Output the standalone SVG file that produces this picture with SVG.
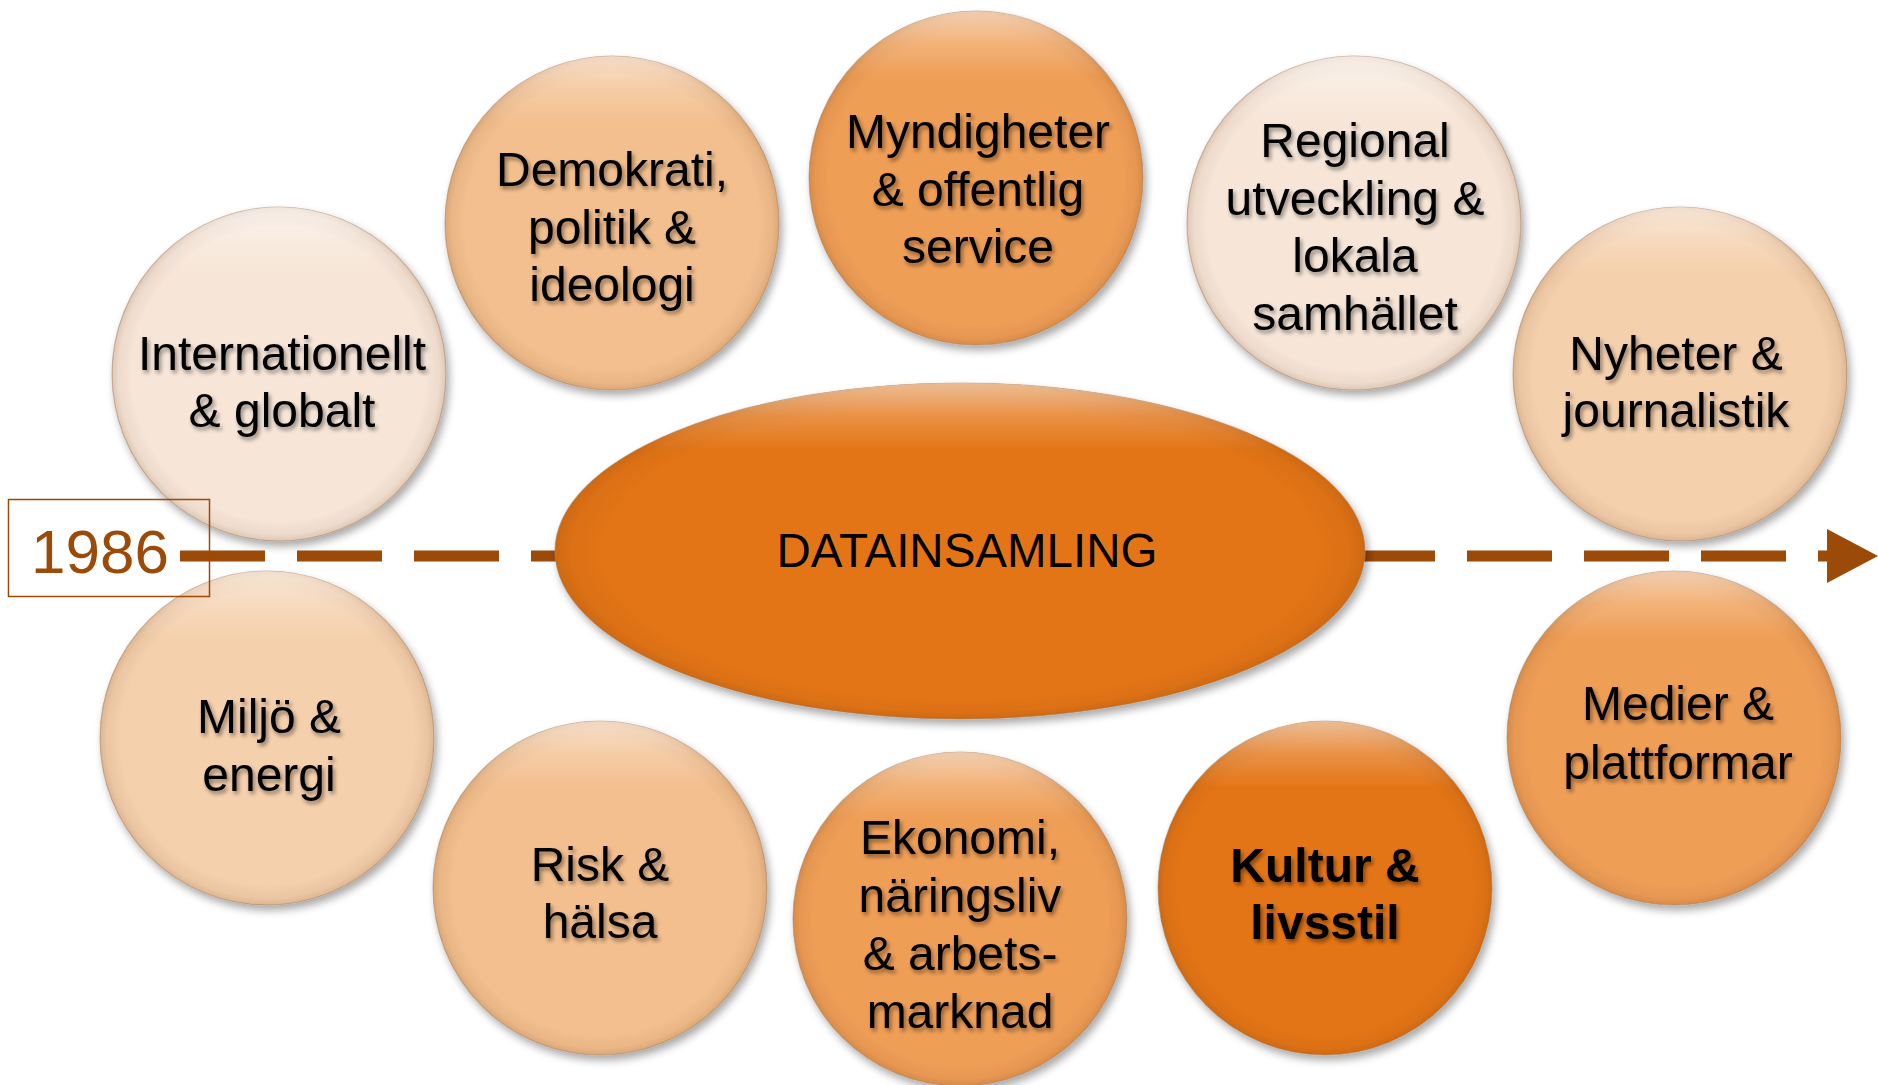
<svg xmlns="http://www.w3.org/2000/svg" width="1878" height="1085" viewBox="0 0 1878 1085">
<style>
.lbl{font-family:"Liberation Sans",Arial,sans-serif;font-size:48px;fill:#000;text-anchor:middle;filter:url(#tshadow)}
.bold{font-weight:bold}
.base{filter:url(#shadow);stroke:#b08a6a;stroke-opacity:0.55;stroke-width:1.2}
.rim{fill:url(#rim)}
.hl{fill:url(#hl)}
.cream{fill:#F7E6D8}
.lpeach{fill:#F5D0AD}
.peach{fill:#F3BF8E}
.mid{fill:#EF9E56}
.dark{fill:#E47412}
.dash{stroke:#9C4A07;stroke-width:11;stroke-dasharray:85 32;fill:none}
</style>
<defs>
<filter id="shadow" x="-20%" y="-20%" width="140%" height="140%">
<feGaussianBlur in="SourceAlpha" stdDeviation="4"/>
<feOffset dx="3" dy="5" result="b"/>
<feComponentTransfer><feFuncA type="linear" slope="0.35"/></feComponentTransfer>
<feMerge><feMergeNode/><feMergeNode in="SourceGraphic"/></feMerge>
</filter>
<filter id="tshadow" x="-10%" y="-20%" width="120%" height="140%">
<feGaussianBlur in="SourceAlpha" stdDeviation="2"/>
<feOffset dx="2" dy="3"/>
<feComponentTransfer><feFuncA type="linear" slope="0.45"/></feComponentTransfer>
<feMerge><feMergeNode/><feMergeNode in="SourceGraphic"/></feMerge>
</filter>
<radialGradient id="rim" cx="0.5" cy="0.5" r="0.5">
<stop offset="0" stop-color="#000" stop-opacity="0"/>
<stop offset="0.88" stop-color="#000" stop-opacity="0"/>
<stop offset="0.96" stop-color="#5a2a00" stop-opacity="0.06"/>
<stop offset="1" stop-color="#5a2a00" stop-opacity="0.16"/>
</radialGradient>
<linearGradient id="hl" x1="0" y1="0" x2="0" y2="1">
<stop offset="0" stop-color="#fff" stop-opacity="0.55"/>
<stop offset="0.1" stop-color="#fff" stop-opacity="0.2"/>
<stop offset="0.2" stop-color="#fff" stop-opacity="0"/>
<stop offset="1" stop-color="#fff" stop-opacity="0"/>
</linearGradient>
</defs>
<rect width="1878" height="1085" fill="#fff"/>

<g id="connectors">
<line class="dash" x1="180" y1="556" x2="1830" y2="556"/>
<polygon points="1827,529 1878,556 1827,583" fill="#9C4A07"/>
</g>

<g id="node-datainsamling">
<ellipse class="base dark" cx="960" cy="551" rx="405" ry="168"/>
<ellipse class="rim" cx="960" cy="551" rx="405" ry="168"/>
<ellipse class="hl" cx="960" cy="551" rx="405" ry="168"/>
<text class="lbl" x="967" y="567" style="font-size:47.5px;filter:none">DATAINSAMLING</text>
</g>

<g id="node-internationellt">
<circle class="base cream" cx="279" cy="374" r="167"/>
<circle class="rim" cx="279" cy="374" r="167"/>
<circle class="hl" cx="279" cy="374" r="167"/>
<text class="lbl" x="282" y="370">Internationellt</text>
<text class="lbl" x="282" y="427">&amp; globalt</text>
</g>

<g id="node-demokrati">
<circle class="base peach" cx="612" cy="223" r="167"/>
<circle class="rim" cx="612" cy="223" r="167"/>
<circle class="hl" cx="612" cy="223" r="167"/>
<text class="lbl" x="612" y="186">Demokrati,</text>
<text class="lbl" x="612" y="244">politik &amp;</text>
<text class="lbl" x="612" y="301">ideologi</text>
</g>

<g id="node-myndigheter">
<circle class="base mid" cx="976" cy="178" r="167"/>
<circle class="rim" cx="976" cy="178" r="167"/>
<circle class="hl" cx="976" cy="178" r="167"/>
<text class="lbl" x="978" y="148">Myndigheter</text>
<text class="lbl" x="978" y="206">&amp; offentlig</text>
<text class="lbl" x="978" y="263">service</text>
</g>

<g id="node-regional">
<circle class="base cream" cx="1354" cy="223" r="167"/>
<circle class="rim" cx="1354" cy="223" r="167"/>
<circle class="hl" cx="1354" cy="223" r="167"/>
<text class="lbl" x="1355" y="157">Regional</text>
<text class="lbl" x="1355" y="215">utveckling &amp;</text>
<text class="lbl" x="1355" y="272">lokala</text>
<text class="lbl" x="1355" y="330">samhället</text>
</g>

<g id="node-nyheter">
<circle class="base lpeach" cx="1680" cy="374" r="167"/>
<circle class="rim" cx="1680" cy="374" r="167"/>
<circle class="hl" cx="1680" cy="374" r="167"/>
<text class="lbl" x="1676" y="370">Nyheter &amp;</text>
<text class="lbl" x="1676" y="427">journalistik</text>
</g>

<g id="node-miljo">
<circle class="base lpeach" cx="267" cy="738" r="167"/>
<circle class="rim" cx="267" cy="738" r="167"/>
<circle class="hl" cx="267" cy="738" r="167"/>
<text class="lbl" x="269" y="733">Miljö &amp;</text>
<text class="lbl" x="269" y="791">energi</text>
</g>

<g id="node-risk">
<circle class="base peach" cx="600" cy="888" r="167"/>
<circle class="rim" cx="600" cy="888" r="167"/>
<circle class="hl" cx="600" cy="888" r="167"/>
<text class="lbl" x="600" y="881">Risk &amp;</text>
<text class="lbl" x="600" y="938">hälsa</text>
</g>

<g id="node-ekonomi">
<circle class="base mid" cx="960" cy="919" r="167"/>
<circle class="rim" cx="960" cy="919" r="167"/>
<circle class="hl" cx="960" cy="919" r="167"/>
<text class="lbl" x="960" y="854">Ekonomi,</text>
<text class="lbl" x="960" y="912">näringsliv</text>
<text class="lbl" x="960" y="970">&amp; arbets-</text>
<text class="lbl" x="960" y="1028">marknad</text>
</g>

<g id="node-kultur">
<circle class="base dark" cx="1325" cy="888" r="167"/>
<circle class="rim" cx="1325" cy="888" r="167"/>
<circle class="hl" cx="1325" cy="888" r="167"/>
<text class="lbl bold" x="1325" y="882">Kultur &amp;</text>
<text class="lbl bold" x="1325" y="939">livsstil</text>
</g>

<g id="node-medier">
<circle class="base mid" cx="1674" cy="738" r="167"/>
<circle class="rim" cx="1674" cy="738" r="167"/>
<circle class="hl" cx="1674" cy="738" r="167"/>
<text class="lbl" x="1678" y="720">Medier &amp;</text>
<text class="lbl" x="1678" y="779">plattformar</text>
</g>

<g id="node-1986">
<rect x="8.5" y="499.5" width="201" height="97" fill="none" stroke="#9C4A07" stroke-width="1.5"/>
<text x="31" y="573" style="font-family:'Liberation Sans',Arial,sans-serif;font-size:62px;fill:#9C4A07">1986</text>
</g>
</svg>
